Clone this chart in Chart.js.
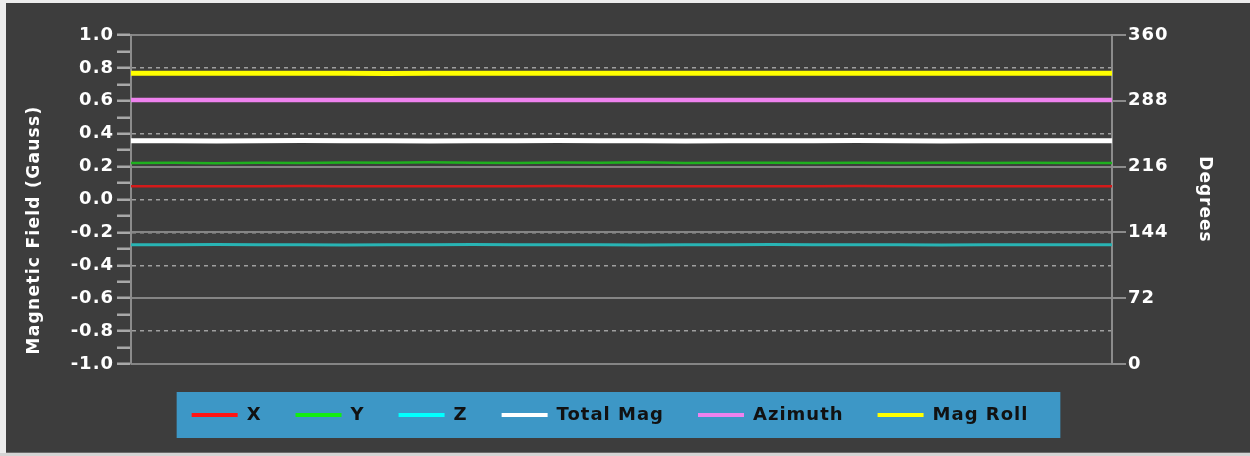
<!DOCTYPE html>
<html lang="en">
<head>
    <meta charset="UTF-8">
    <title>Magnetic Field</title>
    <script src="https://cdn.jsdelivr.net/npm/chart.js"></script>
    <style>
        html, body { margin: 0; padding: 0; background: #ffffff; }
        #magChart { display: block; }
    </style>
</head>
<body>

<canvas id="magChart" width="1250" height="456"></canvas>

<script>
    // sample index along the run (not labelled on the chart)
    var samples = ['1', '2', '3', '4', '5', '6', '7', '8', '9', '10', '11', '12',
                   '13', '14', '15', '16', '17', '18', '19', '20', '21', '22', '23', '24'];

    // field components, Gauss (left axis)
    var xField = [0.081, 0.081, 0.080, 0.081, 0.082, 0.081, 0.081, 0.080, 0.081, 0.081, 0.082, 0.081,
                  0.081, 0.080, 0.081, 0.081, 0.081, 0.082, 0.081, 0.080, 0.081, 0.081, 0.081, 0.081];
    var yField = [0.222, 0.223, 0.221, 0.224, 0.222, 0.225, 0.223, 0.226, 0.224, 0.222, 0.225, 0.223,
                  0.226, 0.222, 0.224, 0.223, 0.222, 0.224, 0.222, 0.223, 0.222, 0.223, 0.222, 0.222];
    var zField = [-0.275, -0.275, -0.274, -0.275, -0.275, -0.276, -0.275, -0.275, -0.274, -0.275, -0.275, -0.275,
                  -0.276, -0.275, -0.275, -0.274, -0.275, -0.275, -0.275, -0.276, -0.275, -0.275, -0.275, -0.275];
    var totalMag = [0.357, 0.357, 0.356, 0.357, 0.358, 0.357, 0.357, 0.356, 0.357, 0.357, 0.358, 0.357,
                    0.357, 0.356, 0.357, 0.357, 0.357, 0.358, 0.357, 0.356, 0.357, 0.357, 0.357, 0.357];

    // angles, degrees (right axis)
    var azimuth = [288.9, 288.9, 288.8, 288.9, 289.0, 288.9, 288.9, 288.8, 288.9, 288.9, 289.0, 288.9,
                   288.9, 288.8, 288.9, 288.9, 288.9, 289.0, 288.9, 288.8, 288.9, 288.9, 288.9, 288.9];
    var magRoll = [318.2, 318.2, 318.2, 318.2, 318.2, 318.2, 317.9, 318.2, 318.2, 318.2, 318.2, 318.2,
                   318.2, 318.2, 318.2, 318.2, 318.2, 318.2, 318.2, 318.2, 318.2, 318.2, 318.2, 318.2];

    // axis ticks
    var gaussTicks = [-1.0, -0.9, -0.8, -0.7, -0.6, -0.5, -0.4, -0.3, -0.2, -0.1, 0.0,
                      0.1, 0.2, 0.3, 0.4, 0.5, 0.6, 0.7, 0.8, 0.9, 1.0];
    var degreeTicks = [0, 72, 144, 216, 288, 360];

    var gaussTitle = 'Magnetic Field (Gauss)';
    var degreeTitle = 'Degrees';

    var FONT = "'DejaVu Sans', sans-serif";
    Chart.defaults.font.family = FONT;

    function isMajorGauss(v) {
        return Math.round(v * 10) % 2 === 0;
    }

    // wider lettering, like the original's UI font
    function spaceLetters(chart) {
        chart.ctx.letterSpacing = '1px';
    }

    // page frame, dark panel and the blue legend strip
    var frame = {
        id: 'frame',
        beforeUpdate: spaceLetters,
        beforeLayout: spaceLetters,
        beforeDraw: function (chart) {
            var ctx = chart.ctx;
            spaceLetters(chart);
            ctx.save();
            ctx.fillStyle = '#ececec';
            ctx.fillRect(0, 0, chart.width, chart.height);
            ctx.fillStyle = '#3d3d3d';
            ctx.fillRect(6, 3, chart.width - 6, 449);
            ctx.fillStyle = '#6a6a6a';
            ctx.fillRect(6, 452, chart.width - 6, 1);
            ctx.fillStyle = '#d4d4d4';
            ctx.fillRect(0, 453, chart.width, 3);

            var boxes = chart.legend.legendHitBoxes;
            if (boxes && boxes.length) {
                var first = boxes[0];
                var last = boxes[boxes.length - 1];
                ctx.fillStyle = '#3d97c6';
                ctx.fillRect(first.left - 15, first.top - 14,
                             last.left + last.width + 32 - (first.left - 15), 46);
            }
            ctx.restore();
        },
        afterDraw: function (chart) {
            var ctx = chart.ctx;
            ctx.save();
            ctx.translate(35, 230);
            ctx.rotate(-Math.PI / 2);
            ctx.font = 'bold 17px ' + FONT;
            ctx.letterSpacing = '1.3px';
            ctx.fillStyle = '#ffffff';
            ctx.textAlign = 'center';
            ctx.textBaseline = 'middle';
            ctx.fillText(gaussTitle, 0, 0);
            ctx.restore();
        }
    };

    function series(label, data, axis, color, legendColor, width) {
        return {
            label: label,
            data: data,
            yAxisID: axis,
            borderColor: color,
            backgroundColor: legendColor,
            borderWidth: width,
            pointRadius: 0,
            tension: 0,
            fill: false
        };
    }

    var ctx = document.getElementById('magChart').getContext('2d');

    var chart = new Chart(ctx, {
        type: 'line',
        data: {
            labels: samples,
            datasets: [
                series('X', xField, 'gauss', '#d41a1a', '#ff1414', 2.5),
                series('Y', yField, 'gauss', '#1fb01f', '#12ee12', 2.5),
                series('Z', zField, 'gauss', '#28b4b4', '#00ffff', 3),
                series('Total Mag', totalMag, 'gauss', '#ffffff', '#ffffff', 5),
                series('Azimuth', azimuth, 'deg', '#ee82ee', '#ee82ee', 4.5),
                series('Mag Roll', magRoll, 'deg', '#ffff00', '#ffff00', 5)
            ]
        },
        options: {
            responsive: false,
            animation: false,
            devicePixelRatio: 1,
            layout: {
                padding: { top: 35, left: 0, right: 30, bottom: 22 }
            },
            plugins: {
                tooltip: { enabled: false },
                legend: {
                    position: 'bottom',
                    labels: {
                        color: '#111111',
                        font: { size: 18, weight: 'bold' },
                        boxWidth: 46,
                        boxHeight: 4,
                        padding: 34,
                        generateLabels: function (chart) {
                            var items = Chart.defaults.plugins.legend.labels.generateLabels(chart);
                            items.forEach(function (item) {
                                item.strokeStyle = item.fillStyle;
                                item.lineWidth = 0;
                            });
                            return items;
                        }
                    }
                }
            },
            scales: {
                x: {
                    display: true,
                    offset: false,
                    grid: { display: false },
                    border: { display: false },
                    ticks: { display: false },
                    afterFit: function (scale) { scale.height = 8; }
                },
                gauss: {
                    position: 'left',
                    min: -1,
                    max: 1,
                    afterBuildTicks: function (scale) {
                        scale.ticks = gaussTicks.map(function (v) { return { value: v }; });
                    },
                    afterFit: function (scale) { scale.width = 131; },
                    ticks: {
                        autoSkip: false,
                        color: '#ffffff',
                        padding: 3,
                        font: { size: 18, weight: 'bold' },
                        callback: function (value) {
                            return isMajorGauss(value) ? value.toFixed(1) : '';
                        }
                    },
                    grid: {
                        color: function (c) {
                            return c.tick && isMajorGauss(c.tick.value) ? '#a0a0a0' : 'rgba(0,0,0,0)';
                        },
                        lineWidth: 1.5,
                        tickColor: '#a8a8a8',
                        tickWidth: 2.5,
                        tickLength: 14
                    },
                    border: { color: '#8c8c8c', width: 2, dash: [4, 4] }
                },
                deg: {
                    position: 'right',
                    min: 0,
                    max: 360,
                    afterBuildTicks: function (scale) {
                        scale.ticks = degreeTicks.map(function (v) { return { value: v }; });
                    },
                    afterFit: function (scale) { scale.width = 108; },
                    ticks: {
                        autoSkip: false,
                        color: '#ffffff',
                        padding: 2,
                        font: { size: 18, weight: 'bold' }
                    },
                    grid: {
                        color: '#858585',
                        lineWidth: 2,
                        tickColor: '#8c8c8c',
                        tickWidth: 2,
                        tickLength: 14
                    },
                    border: { color: '#8c8c8c', width: 2 },
                    title: {
                        display: true,
                        text: degreeTitle,
                        color: '#ffffff',
                        padding: 5,
                        font: { size: 17, weight: 'bold' }
                    }
                }
            }
        },
        plugins: [frame]
    });
</script>

</body>
</html>
